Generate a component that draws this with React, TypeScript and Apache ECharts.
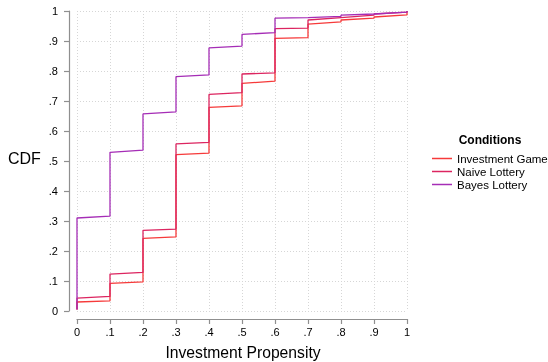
import React, { useEffect, useRef } from "react";
import * as echarts from "echarts";

const stepX = [0, 0.1, 0.2, 0.3, 0.4, 0.5, 0.6, 0.7, 0.8, 0.9, 1.0];

const seriesNames = ["Investment Game", "Naive Lottery", "Bayes Lottery"];
const seriesColors = ["#f63a3a", "#dc2560", "#a52db6"];

const startValue = [0.005, 0.005, 0.005];
const endValue = [1.0, 1.0, 1.0];

// CDF value at the left and right end of each interval [x_i, x_{i+1}]
const igLeft = [0.030, 0.092, 0.242, 0.521, 0.679, 0.759, 0.909, 0.956, 0.970, 0.980];
const igRight = [0.034, 0.097, 0.247, 0.526, 0.684, 0.766, 0.911, 0.964, 0.976, 0.987];
const nlLeft = [0.043, 0.123, 0.269, 0.557, 0.722, 0.790, 0.941, 0.970, 0.980, 0.990];
const nlRight = [0.049, 0.129, 0.273, 0.562, 0.728, 0.794, 0.943, 0.978, 0.986, 0.996];
const blLeft = [0.310, 0.529, 0.657, 0.781, 0.877, 0.922, 0.976, 0.978, 0.986, 0.990];
const blRight = [0.316, 0.536, 0.664, 0.787, 0.883, 0.928, 0.978, 0.982, 0.990, 0.996];

const lefts = [igLeft, nlLeft, blLeft];
const rights = [igRight, nlRight, blRight];

function buildSteps(k: number): number[][] {
  const pts: number[][] = [[stepX[0], startValue[k]]];
  for (let i = 0; i < stepX.length - 1; i++) {
    pts.push([stepX[i], lefts[k][i]]);
    pts.push([stepX[i + 1], rights[k][i]]);
  }
  pts.push([stepX[stepX.length - 1], endValue[k]]);
  return pts;
}

const FONT = "'Liberation Sans', Arial, Helvetica, sans-serif";

function fmt(v: number): string {
  if (Math.abs(v) < 1e-9) return "0";
  if (Math.abs(v - 1) < 1e-9) return "1";
  return v.toFixed(1).replace(/^0\./, ".");
}

export default function App() {
  const ref = useRef<HTMLDivElement>(null);
  useEffect(() => {
    if (!ref.current) return;
    const chart = echarts.init(ref.current, undefined, { renderer: "svg" });
    const axisCommon = {
      type: "value" as const,
      min: 0,
      max: 1,
      interval: 0.1,
      offset: 8,
      axisLine: { show: true, onZero: false, lineStyle: { color: "#8f8f8f", width: 1.2 } },
      axisTick: { show: true, length: 5, lineStyle: { color: "#8f8f8f", width: 1.2 } },
      splitLine: { show: true, lineStyle: { color: "#d6d6d6", width: 1, type: [1, 2] } },
      axisLabel: { color: "#000", fontFamily: FONT, fontSize: 11, formatter: fmt },
    };
    chart.setOption({
      animation: false,
      grid: { left: 77, right: 141, top: 11, bottom: 51 },
      xAxis: { ...axisCommon, axisLabel: { ...axisCommon.axisLabel, margin: 7 } },
      yAxis: { ...axisCommon, axisLabel: { ...axisCommon.axisLabel, margin: 11 } },
      legend: {
        orient: "vertical",
        left: 427,
        top: 147,
        itemGap: 0,
        itemWidth: 20,
        itemHeight: 1.5,
        icon: "rect",
        data: seriesNames,
        textStyle: { fontFamily: FONT, fontSize: 11.5, color: "#000", lineHeight: 13, padding: [0, 0, 0, 0] },
      },
      graphic: [
        { type: "text", left: 8, top: 150, style: { text: "CDF", font: `16px ${FONT}`, fill: "#000" } },
        { type: "text", x: 243, y: 352, style: { text: "Investment Propensity", font: `15.7px ${FONT}`, fill: "#000", align: "center", verticalAlign: "middle" } },
        { type: "text", x: 490, y: 140, style: { text: "Conditions", font: `bold 12px ${FONT}`, fill: "#000", align: "center", verticalAlign: "middle" } },
      ],
      series: seriesNames.map((name, k) => ({
        name,
        type: "line",
        data: buildSteps(k),
        showSymbol: false,
        symbol: "none",
        itemStyle: { color: seriesColors[k] },
        lineStyle: { color: seriesColors[k], width: 1.3 },
        z: 2 + k,
      })),
    });
    return () => chart.dispose();
  }, []);
  return <div ref={ref} style={{ position: "fixed", left: 0, top: 0, width: 548, height: 362 }} />;
}
